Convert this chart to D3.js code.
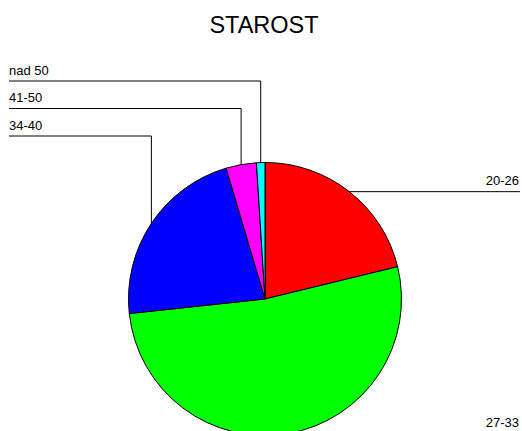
<!DOCTYPE html>
<html>
<head>
<meta charset="utf-8">
<script src="https://cdn.jsdelivr.net/npm/d3@7"></script>
<style>
	body { margin: 0; background: #fff; }
	svg { display: block; font-family: Arial, "Liberation Sans", sans-serif; }
</style>
</head>
<body>
<div id="chart"></div>
<script>
// age groups, share of respondents (%)
let categories = ['20-26', '27-33', '34-40', '41-50', 'nad 50'];
let values     = [21.2, 52.1, 22.1, 3.6, 1.0];
let colors     = ['#ff0000', '#00ff00', '#0000ff', '#ff00ff', '#00ffff'];
let title      = 'STAROST';

let width  = 522,
	height = 431,
	cx     = 265,
	cy     = 299,
	radius = 136.5;

let data = categories.map(function(c, i){ return {label: c, value: values[i], color: colors[i]}; });

let pie = d3.pie()
	.sort(null)
	.value(function(d){ return d.value; });

let arc = d3.arc()
	.innerRadius(0)
	.outerRadius(radius);

let arcs = pie(data);

let svg = d3.select('#chart')
	.append('svg')
	.attr('width', width)
	.attr('height', height);

svg.append('text')
	.attr('x', 264)
	.attr('y', 33)
	.attr('text-anchor', 'middle')
	.attr('font-size', '23.5px')
	.attr('fill', '#000')
	.text(title);

let g = svg.append('g')
	.attr('transform', 'translate(' + cx + ',' + cy + ')');

g.selectAll('.slice')
	.data(arcs)
	.enter()
	.append('path')
	.attr('class', 'slice')
	.attr('d', arc)
	.attr('fill', function(d){ return d.data.color; })
	.attr('stroke', '#000')
	.attr('stroke-width', 1)
	.attr('stroke-linejoin', 'round');

// leader lines: right side go straight out, left side stack upward
let leftSlices = arcs.filter(function(d){ return (d.startAngle + d.endAngle) / 2 > Math.PI; }).reverse();
let leftTop = 81, leftStep = 27.5, leftX = 9, rightX = 520;

let labels = svg.append('g').attr('font-size', '13px').attr('fill', '#000');

arcs.forEach(function(d){
	let mid = (d.startAngle + d.endAngle) / 2,
		px  = cx + radius * Math.sin(mid),
		py  = cy - radius * Math.cos(mid);

	if (mid <= Math.PI) {
		labels.append('path')
			.attr('d', 'M' + px + ',' + py + 'H' + rightX)
			.attr('fill', 'none')
			.attr('stroke', '#000');
		labels.append('text')
			.attr('x', rightX - 1)
			.attr('y', py - 6.5)
			.attr('text-anchor', 'end')
			.text(d.data.label);
	} else {
		let ly = leftTop + leftStep * leftSlices.indexOf(d);
		labels.append('path')
			.attr('d', 'M' + px + ',' + py + 'V' + ly + 'H' + leftX)
			.attr('fill', 'none')
			.attr('stroke', '#000');
		labels.append('text')
			.attr('x', leftX)
			.attr('y', ly - 6.5)
			.text(d.data.label);
	}
});
</script>
</body>
</html>
